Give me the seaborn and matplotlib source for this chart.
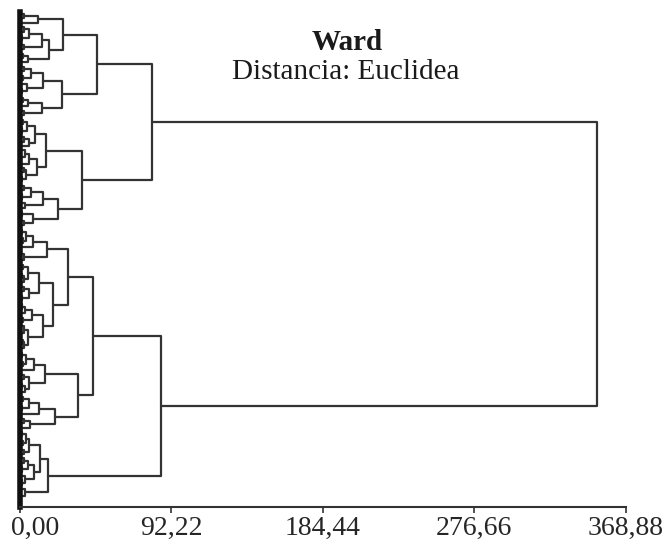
import matplotlib
matplotlib.use("Agg")
import matplotlib.pyplot as plt
from matplotlib.transforms import ScaledTranslation
import numpy as np
import pandas as pd
import seaborn as sns

# ---- data: merge height between each pair of neighbouring leaves (top -> bottom) ----
top_a_gaps = [3, 11, 26.5, 2.5, 6, 1.5, 13.5, 3, 18, 2, 5]
top_b_gaps = [3, 7, 2, 14, 4.5, 1.8, 26, 2.2, 5, 13.5, 3]
top_c_gaps = [2, 4.5, 1.5, 9.5, 3, 5.5, 16, 3.5, 1.2, 6, 10.5, 2.5, 4, 1.8]
top_d_gaps = [2.5, 7, 1.5, 14, 3.5, 23.5, 1.5, 8, 3]
bottom_a_gaps = [1.5, 4, 2, 8, 16.6, 1.2, 3, 29.5,
                 2, 5, 1.5, 3, 12, 2.5, 6, 1.8, 20.5,
                 1.5, 3.5, 7.5, 2, 14, 3, 1.2, 5, 2.2, 2.6]
bottom_b_gaps = [1.5, 4, 2, 9, 15.5, 2.5, 6, 1.3, 3.5, 35.6,
                 2, 5.5, 1.5, 12, 21.6, 3, 6.5]
bottom_c_gaps = [1.5, 4, 2, 6, 3, 12.5, 2.5, 5, 1.5, 9, 3.5, 1.8, 17.4, 3.5, 1.2]

join_top_ab = 47.0
join_top_cd = 38.0
join_top = 80.6
join_root = 351.0
join_bottom_ab = 44.7
join_bottom = 86.0

tick_values = [0.0, 92.22, 184.44, 276.66, 368.88]
tick_labels = ["0,00", "92,22", "184,44", "276,66", "368,88"]
title_text = "Ward"
subtitle_text = "Distancia: Euclidea"

gaps = (top_a_gaps + [join_top_ab] + top_b_gaps + [join_top] + top_c_gaps
        + [join_top_cd] + top_d_gaps + [join_root] + bottom_a_gaps
        + [join_bottom_ab] + bottom_b_gaps + [join_bottom] + bottom_c_gaps)
n_leaves = len(gaps) + 1

# ---- build dendrogram brackets from neighbour merge heights ----
rows = []


def build(lo, hi):
    if lo == hi:
        return float(lo), 0.0
    seg = gaps[lo:hi]
    k = lo + int(np.argmax(seg))
    h = gaps[k]
    p1, h1 = build(lo, k)
    p2, h2 = build(k + 1, hi)
    for order, (xx, yy) in enumerate([(h1, p1), (h, p1), (h, p2), (h2, p2)]):
        rows.append({"x": xx, "y": yy, "bracket": f"b{k}", "order": order})
    return (p1 + p2) / 2.0, h


build(0, n_leaves - 1)
df = pd.DataFrame(rows)

# ---- figure ----
sns.set_style("white")
plt.rcParams["font.family"] = ["Liberation Serif", "DejaVu Serif"]

W, H = 666, 547
fig = plt.figure(figsize=(W / 100, H / 100), dpi=100)
ax = fig.add_axes([19.5 / W, 40 / H, (626 - 19.5) / W, (507 - 11.8) / H])

line_color = "#333333"
sns.lineplot(data=df, x="x", y="y", units="bracket", estimator=None,
             sort=False, color=line_color, linewidth=1.6, ax=ax)

ax.set_xlim(0, 368.88)
ax.set_ylim(112.05, -0.5)
ax.set_xlabel("")
ax.set_ylabel("")
ax.set_yticks([])
ax.set_xticks(tick_values)
ax.set_xticklabels(tick_labels, fontsize=20)
ax.tick_params(axis="x", direction="out", length=4.5, width=1.2,
               color=line_color, pad=2, bottom=True)
for side in ["top", "right"]:
    ax.spines[side].set_visible(False)
for side in ["left", "bottom"]:
    ax.spines[side].set_color(line_color)
    ax.spines[side].set_linewidth(1.5)
ax.spines["left"].set_color("#111111")
ax.spines["left"].set_linewidth(4.0)

first = ax.get_xticklabels()[0]
first.set_transform(first.get_transform() + ScaledTranslation(0.16, 0, fig.dpi_scale_trans))

fig.text(347 / W, 1 - 50 / H, title_text, ha="center", va="baseline",
         fontsize=21, fontweight="bold", color="#1a1a1a")
fig.text(345.5 / W, 1 - 79 / H, subtitle_text, ha="center", va="baseline",
         fontsize=21, color="#1a1a1a")

fig.savefig("out.png", dpi=100, facecolor="white")
